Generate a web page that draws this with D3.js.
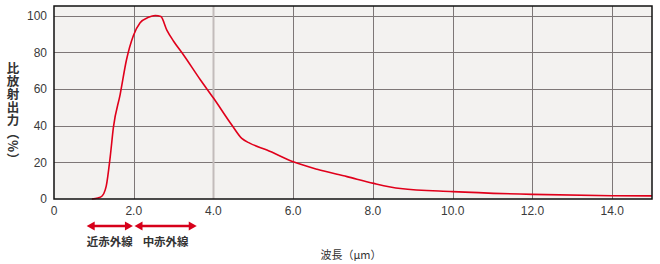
<!DOCTYPE html>
<html>
<head>
<meta charset="utf-8">
<script src="https://cdn.jsdelivr.net/npm/d3@7"></script>
<style>
  html, body { margin: 0; padding: 0; background: #fff; }
  svg { display: block; font-family: 'Noto Sans CJK JP', 'Noto Sans', sans-serif; }
  .tick { font-family: 'Liberation Sans', Arial, sans-serif; }
</style>
</head>
<body>
<div id="chart"></div>
<script>
// wavelength (µm) vs relative radiant output (%)
const wavelength = [0.95, 1.1, 1.2, 1.25, 1.31, 1.41, 1.49, 1.66, 1.82, 1.99, 2.16, 2.37, 2.54, 2.68, 2.83, 3.0, 3.25, 3.67, 4.0, 4.46, 4.71, 4.92, 5.34, 6.0, 6.6, 7.35, 8.02, 8.69, 10.0, 12.0, 14.0, 15.0]
const output = [0, 0.5, 1.5, 3, 7, 23, 39, 57, 76, 89, 96, 99, 100, 99.4, 92, 86, 78.5, 65, 55, 40.3, 33, 30.3, 26.7, 20.3, 16.2, 12.2, 8.5, 5.7, 4.0, 2.5, 1.8, 1.7]

const xTicks = [0, 2, 4, 6, 8, 10, 12, 14]
const xTickLabels = ['0', '2.0', '4.0', '6.0', '8.0', '10.0', '12.0', '14.0']
const yTicks = [0, 20, 40, 60, 80, 100]

// infrared bands shown as arrows under the axis
const bands = [
  { name: '近赤外線', from: 0.82, to: 1.98 },
  { name: '中赤外線', from: 2.02, to: 3.58 },
]

const width = 660
const height = 264
const margin = { top: 6, right: 8, bottom: 65, left: 54 }

const svg = d3.select('#chart')
  .append('svg')
  .attr('width', width)
  .attr('height', height)

const x = d3.scaleLinear().domain([0, 15]).range([margin.left, width - margin.right])
const y = d3.scaleLinear().domain([0, 100]).range([height - margin.bottom, 15.5])

const plotTop = margin.top
const plotBottom = height - margin.bottom

// Plot background
svg.append('rect')
  .attr('x', x(0))
  .attr('y', plotTop)
  .attr('width', x(15) - x(0))
  .attr('height', plotBottom - plotTop)
  .attr('fill', '#f3f2f0')

// Grid
svg.append('g')
  .selectAll('line')
  .data(yTicks.filter(d => d > 0))
  .join('line')
  .attr('x1', x(0))
  .attr('x2', x(15))
  .attr('y1', d => Math.round(y(d)) + 0.5)
  .attr('y2', d => Math.round(y(d)) + 0.5)
  .attr('stroke', '#7d7777')
  .attr('stroke-width', 1)

svg.append('g')
  .selectAll('line')
  .data(xTicks.filter(d => d > 0))
  .join('line')
  .attr('x1', d => Math.round(x(d)) + 0.5)
  .attr('x2', d => Math.round(x(d)) + 0.5)
  .attr('y1', plotTop)
  .attr('y2', plotBottom)
  .attr('stroke', d => d === 4 ? '#c2bcbb' : '#7d7777')
  .attr('stroke-width', d => d === 4 ? 2 : 1)

// Curve
const line = d3.line()
  .x(d => x(d[0]))
  .y(d => y(d[1]))
  .curve(d3.curveMonotoneX)

svg.append('path')
  .datum(wavelength.map((w, i) => [w, output[i]]))
  .attr('d', line)
  .attr('fill', 'none')
  .attr('stroke', '#e0001b')
  .attr('stroke-width', 1.6)

// Frame
svg.append('rect')
  .attr('x', x(0))
  .attr('y', plotTop)
  .attr('width', x(15) - x(0))
  .attr('height', plotBottom - plotTop)
  .attr('fill', 'none')
  .attr('stroke', '#111')
  .attr('stroke-width', 1.5)

// Axis labels
svg.append('g')
  .selectAll('text')
  .data(yTicks)
  .join('text')
  .attr('class', 'tick')
  .attr('x', 47)
  .attr('y', d => y(d))
  .attr('dy', '0.36em')
  .attr('text-anchor', 'end')
  .attr('font-size', 12)
  .attr('fill', '#3a3a3a')
  .text(d => d)

svg.append('g')
  .selectAll('text')
  .data(xTicks)
  .join('text')
  .attr('class', 'tick')
  .attr('x', d => x(d))
  .attr('y', 215)
  .attr('text-anchor', 'middle')
  .attr('font-size', 12)
  .attr('fill', '#3a3a3a')
  .text((d, i) => xTickLabels[i])

// Y title (vertical writing)
svg.append('text')
  .attr('x', 13)
  .attr('y', 62)
  .style('writing-mode', 'vertical-rl')
  .style('letter-spacing', '0.5px')
  .attr('font-size', 12.5)
  .attr('font-weight', 'bold')
  .attr('fill', '#333')
  .text('比放射出力（%）')

// X title
svg.append('text')
  .attr('x', 351)
  .attr('y', 259)
  .attr('text-anchor', 'middle')
  .attr('font-size', 11)
  .attr('fill', '#333')
  .text('波長（μm）')

// Band arrows
const arrowY = 226
const head = 8
const band = svg.append('g')
  .selectAll('g')
  .data(bands)
  .join('g')

band.append('line')
  .attr('x1', d => x(d.from) + head - 1)
  .attr('x2', d => x(d.to) - head + 1)
  .attr('y1', arrowY)
  .attr('y2', arrowY)
  .attr('stroke', '#d7001a')
  .attr('stroke-width', 2.5)

band.append('path')
  .attr('d', d => `M${x(d.from)},${arrowY}L${x(d.from) + head},${arrowY - 4.5}L${x(d.from) + head},${arrowY + 4.5}Z`)
  .attr('fill', '#d7001a')

band.append('path')
  .attr('d', d => `M${x(d.to)},${arrowY}L${x(d.to) - head},${arrowY - 4.5}L${x(d.to) - head},${arrowY + 4.5}Z`)
  .attr('fill', '#d7001a')

band.append('text')
  .attr('x', d => x((d.from + d.to) / 2))
  .attr('y', 246)
  .attr('text-anchor', 'middle')
  .attr('font-size', 11.5)
  .attr('font-weight', 'bold')
  .attr('fill', '#333')
  .text(d => d.name)
</script>
</body>
</html>
